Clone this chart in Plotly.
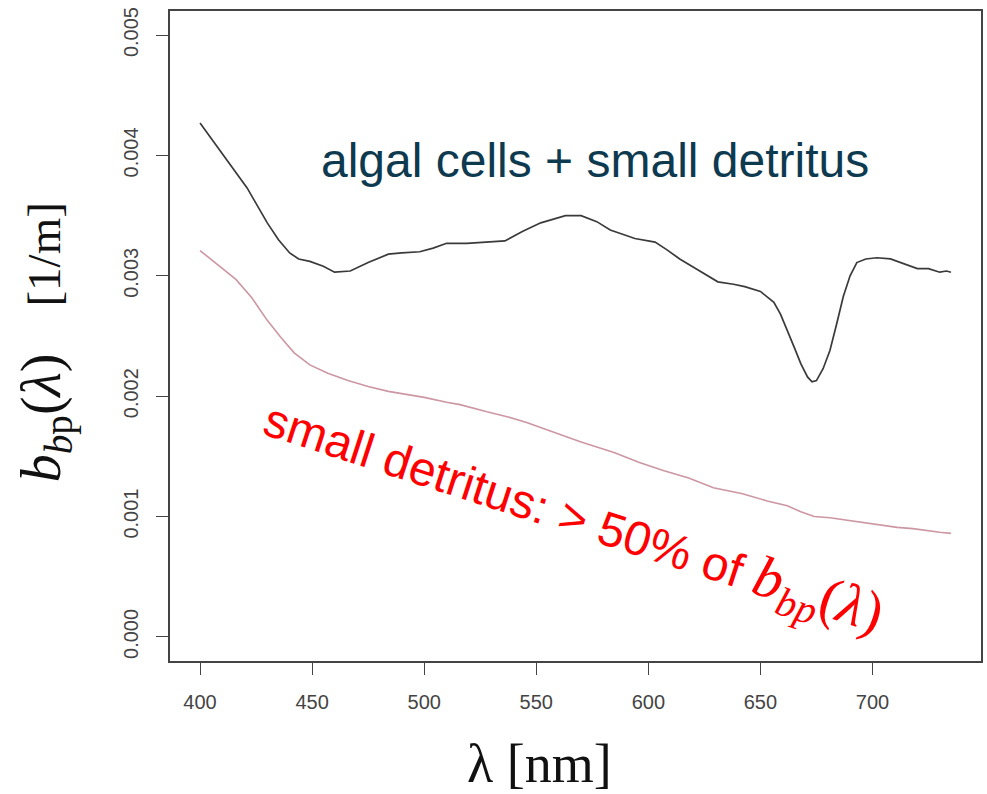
import plotly.graph_objects as go

# ---- data ----
wl_total = [400, 410, 421, 430, 435, 440, 444, 449, 455, 460, 467, 475, 484, 490, 498, 504,
            510, 519, 528, 536, 544, 552, 563, 570, 577, 583, 594, 603, 608, 614, 622, 631,
            638, 643, 650, 656, 659, 662, 665, 668, 671, 673, 675, 678, 681, 684, 687, 690,
            693, 697, 702, 708, 714, 720, 725, 730, 733, 735]
bbp_total = [0.00427, 0.00401, 0.00373, 0.00344, 0.00330, 0.00319, 0.00314, 0.00312, 0.00308,
             0.00303, 0.00304, 0.00311, 0.00318, 0.00319, 0.00320, 0.00323, 0.00327, 0.00327,
             0.00328, 0.00329, 0.00337, 0.00344, 0.00350, 0.00350, 0.00345, 0.00338, 0.00331,
             0.00328, 0.00322, 0.00314, 0.00305, 0.00295, 0.00293, 0.00291, 0.00287, 0.00278,
             0.00268, 0.00255, 0.00241, 0.00227, 0.00216, 0.00212, 0.00213, 0.00223, 0.00238,
             0.00260, 0.00283, 0.00300, 0.00311, 0.00314, 0.00315, 0.00314, 0.00310, 0.00306,
             0.00306, 0.00303, 0.00304, 0.00303]

wl_small = [400, 408, 416, 423, 430, 436, 442, 449, 457, 466, 475, 484, 493, 500, 510, 516,
            528, 537, 546, 558, 570, 585, 596, 607, 618, 629, 642, 653, 662, 668, 674, 681,
            688, 700, 711, 718, 725, 730, 735]
bbp_small = [0.00321, 0.00309, 0.00297, 0.00282, 0.00263, 0.00249, 0.00236, 0.00226, 0.00219,
             0.00213, 0.00208, 0.00204, 0.00201, 0.00199, 0.00195, 0.00193, 0.00187, 0.00183,
             0.00178, 0.00170, 0.00162, 0.00153, 0.00145, 0.00138, 0.00132, 0.00124, 0.00119,
             0.00113, 0.00109, 0.00104, 0.00100, 0.00099, 0.00097, 0.00094, 0.00091, 0.00090,
             0.00088, 0.00087, 0.00086]

x_ticks = [400, 450, 500, 550, 600, 650, 700]
y_ticks = [0.000, 0.001, 0.002, 0.003, 0.004, 0.005]
y_tick_labels = ["0.000", "0.001", "0.002", "0.003", "0.004", "0.005"]

label_total = "algal cells + small detritus"
label_small = ("small detritus: > 50% of "
               "<span style=\"font-family:Liberation Serif;font-size:58px\">"
               "<i>b</i><sub><i>bp</i></sub>(<i>λ</i>)</span>")
y_title = ("<span style=\"font-size:56px\"><i>b</i><sub><i>b</i>p</sub>(<i>λ</i>)</span>"
           "\u00a0\u00a0\u00a0\u00a0[1/m]")
x_title = "λ [nm]"

W, H = 987, 794
L, R, T, B = 170, 4, 11, 133

fig = go.Figure()
fig.add_trace(go.Scatter(x=wl_total, y=bbp_total, mode="lines",
                         line=dict(color="#3a3a3a", width=1.7), showlegend=False))
fig.add_trace(go.Scatter(x=wl_small, y=bbp_small, mode="lines",
                         line=dict(color="#cc97a3", width=1.6), showlegend=False))

tick_font = dict(family="Liberation Sans Narrow, Arial Narrow, Liberation Sans, Arial",
                 size=20, color="#444444")

fig.update_xaxes(range=[386.6, 748.4], tickmode="array", tickvals=x_ticks,
                 ticks="outside", ticklen=12, tickwidth=1.3, tickcolor="#444",
                 showline=True, linecolor="#444", linewidth=2, mirror=True,
                 showgrid=False, zeroline=False, tickfont=tick_font,
                 ticklabelstandoff=10)
fig.update_yaxes(range=[-0.0002, 0.0052], tickmode="array", tickvals=y_ticks,
                 ticktext=y_tick_labels, tickangle=-90,
                 ticks="outside", ticklen=12, tickwidth=1.3, tickcolor="#444",
                 showline=True, linecolor="#444", linewidth=2, mirror=True,
                 showgrid=False, zeroline=False, tickfont=tick_font,
                 ticklabelstandoff=10)

pw = W - L - R
ph = H - T - B


def px(xp):
    return (xp - L) / pw


def py(yp):
    return (H - B - yp) / ph


common = dict(xref="paper", yref="paper", showarrow=False,
              xanchor="center", yanchor="middle")

fig.add_annotation(text=label_total, x=px(596), y=py(161),
                   font=dict(family="Liberation Sans, Arial", size=48, color="#0e3a50"),
                   **common)
fig.add_annotation(text=label_small, x=px(574), y=py(518), textangle=18,
                   font=dict(family="Liberation Sans, Arial", size=48, color="#ff0000"),
                   **common)
fig.add_annotation(text=y_title, x=px(46), y=py(342), textangle=-90,
                   font=dict(family="Liberation Serif, Times New Roman", size=47, color="#111111"),
                   **common)
fig.add_annotation(text=x_title, x=px(540), y=py(764),
                   font=dict(family="Liberation Serif, Times New Roman", size=54, color="#111111"),
                   **common)

fig.update_layout(width=W, height=H, margin=dict(l=L, r=R, t=T, b=B),
                  paper_bgcolor="white", plot_bgcolor="white")

fig.write_html("out.html")
